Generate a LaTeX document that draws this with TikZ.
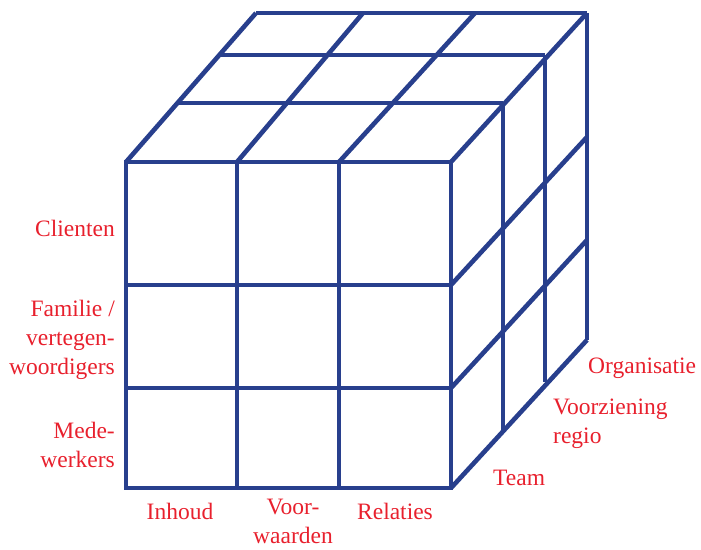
\documentclass[tikz,border=0pt]{standalone}
\usepackage{fontspec}
\setmainfont{Liberation Serif}
\definecolor{cubeblue}{HTML}{283F8D}
\definecolor{labelred}{HTML}{E8202D}
\begin{document}
\begin{tikzpicture}[x=1pt,y=-1pt,
  grid/.style={draw=cubeblue,line width=4.6pt,line join=miter},
  lbl/.style={text=labelred,font=\fontsize{23.5}{29}\selectfont,inner sep=0pt}]
\useasboundingbox (0,0) rectangle (701,549);
% front face
\draw[grid] (126,162) rectangle (451,488);
\draw[grid] (237,162) -- (237,488);
\draw[grid] (339,162) -- (339,488);
\draw[grid] (126,285) -- (451,285);
\draw[grid] (126,388) -- (451,388);
% top face
\draw[grid] (256,13) -- (587,13);
\draw[grid] (220,55) -- (545,55);
\draw[grid] (178,103) -- (503,103);
\draw[grid] (126,162) -- (256,13);
\draw[grid] (237,162) -- (363,13);
\draw[grid] (339,162) -- (475,13);
\draw[grid] (451,162) -- (587,13);
% right face
\draw[grid] (503,103) -- (503,430);
\draw[grid] (545,55) -- (545,382);
\draw[grid] (587,13) -- (587,340);
\draw[grid] (451,285) -- (587,137);
\draw[grid] (451,388) -- (587,240);
\draw[grid] (451,488) -- (587,340);
% labels
\node[lbl,anchor=base east] (clienten) at (115,236) {Clienten};
\node[lbl,anchor=base east,align=right] (familie) at (115,374) {Familie /\\vertegen-\\woordigers};
\node[lbl,anchor=base east,align=right] (mede) at (115,467) {Mede-\\werkers};
\node[lbl,anchor=base] (inhoud) at (180,519) {Inhoud};
\node[lbl,anchor=base,align=center] (voor) at (293,543) {Voor-\\waarden};
\node[lbl,anchor=base] (relaties) at (395,519) {Relaties};
\node[lbl,anchor=base west] (team) at (493,485) {Team};
\node[lbl,anchor=base west,align=left] (voorz) at (553,443) {Voorziening\\regio};
\node[lbl,anchor=base west] (org) at (588,373) {Organisatie};
\end{tikzpicture}
\end{document}
